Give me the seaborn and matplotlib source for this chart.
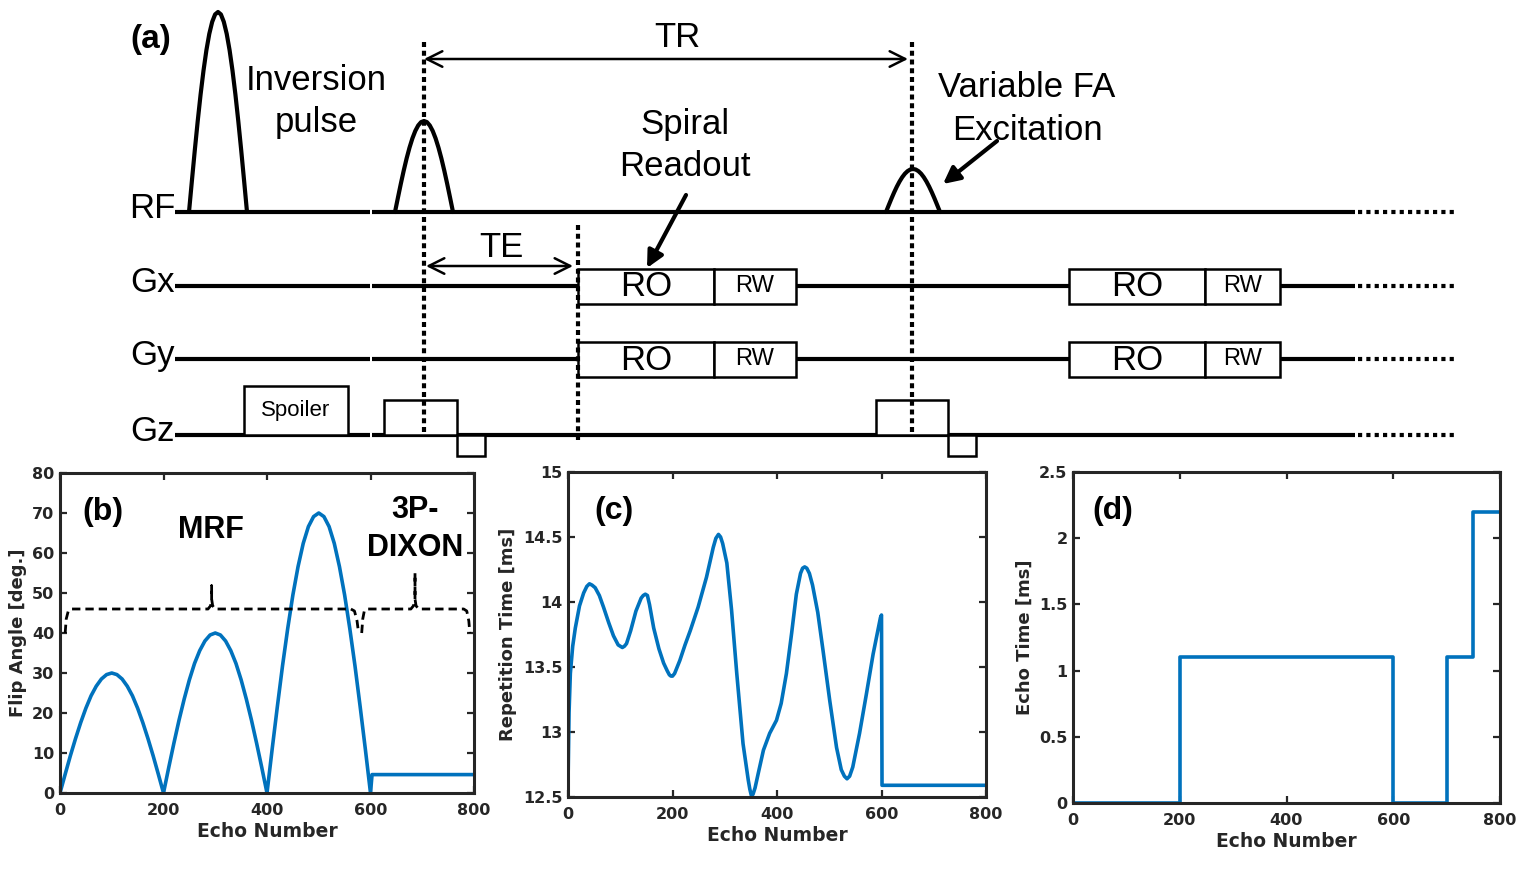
import numpy as np
import pandas as pd
import matplotlib
matplotlib.use("Agg")
import matplotlib.pyplot as plt
import seaborn as sns
from matplotlib.patches import Rectangle

W, H, DPI = 1539, 874, 100

# ---------------- (b) flip angle schedule ----------------
fa_echo = list(range(0, 601, 10)) + [603, 800]
fa_deg = [0, 4.7, 9.3, 13.6, 17.6, 21.2, 24.3, 26.7, 28.5, 29.6, 30, 29.6, 28.5, 26.7, 24.3, 21.2, 17.6, 13.6, 9.3, 4.7, 0,
          6.3, 12.4, 18.2, 23.5, 28.3, 32.4, 35.6, 38.0, 39.5, 40, 39.5, 38.0, 35.6, 32.4, 28.3, 23.5, 18.2, 12.4, 6.3, 0,
          11.0, 21.6, 31.8, 41.1, 49.5, 56.6, 62.4, 66.6, 69.1, 70, 69.1, 66.6, 62.4, 56.6, 49.5, 41.1, 31.8, 21.6, 11.0, 0,
          4.6, 4.6]

# curly braces marking the MRF / 3P-DIXON parts
mrf_brace_x = [10, 12, 16, 22, 286, 291, 293, 293, 293, 295, 300, 562, 569, 574, 577]
mrf_brace_y = [40, 43.5, 45.5, 46, 46, 46.8, 48.5, 51.8, 48.5, 46.8, 46, 46, 45.5, 43, 40]
dixon_brace_x = [583, 585, 588, 594, 678, 683, 686, 686, 686, 688, 693, 780, 786, 790, 792]
dixon_brace_y = [40, 43.5, 45.5, 46, 46, 46.8, 48.5, 55, 48.5, 46.8, 46, 46, 45.5, 43, 40]

# ---------------- (c) repetition time ----------------
tr_echo = [0, 2, 4.5, 9, 14, 22, 30, 36, 41, 46, 52, 60, 68, 78, 87, 96, 100, 104, 108, 112, 120, 130,
           140, 144, 148, 152, 156, 164, 174, 183, 190, 194, 197, 200, 204, 214, 224, 234, 249, 265,
           278, 283, 288, 292, 296, 304, 313, 323, 335, 345, 348, 351, 354, 358, 364, 374, 386, 399,
           408, 418, 428, 437, 445, 449, 453, 457, 462, 468, 478, 488, 501, 514, 523, 529, 534, 539,
           545, 558, 571, 584, 598, 600, 601, 800]
tr_ms = [12.59, 13.15, 13.45, 13.66, 13.8, 13.97, 14.07, 14.12, 14.14, 14.13, 14.11, 14.05, 13.96, 13.84,
         13.74, 13.67, 13.66, 13.65, 13.66, 13.68, 13.78, 13.93,
         14.03, 14.05, 14.06, 14.05, 13.98, 13.8, 13.64, 13.53, 13.47, 13.44, 13.43, 13.43, 13.45, 13.55,
         13.67, 13.78, 13.96, 14.19,
         14.42, 14.49, 14.52, 14.5, 14.45, 14.3, 13.94, 13.45, 12.91, 12.63, 12.56, 12.51, 12.52, 12.57,
         12.68, 12.86, 12.99, 13.09,
         13.22, 13.45, 13.76, 14.06, 14.22, 14.26, 14.27, 14.26, 14.22, 14.13, 13.92, 13.63, 13.24, 12.88,
         12.71, 12.66, 12.64, 12.66,
         12.73, 12.99, 13.29, 13.6, 13.88, 13.9, 12.59, 12.59]

# ---------------- (d) echo time ----------------
te_echo = [0, 200, 600, 700, 750, 800]
te_ms = [0, 1.1, 0, 1.1, 2.2, 2.2]

# ---------------- (a) sequence diagram (diagram units) ----------------
row_names = ["RF", "Gx", "Gy", "Gz"]
row_y = [212, 286, 359, 435]
line_start, line_gap, line_end, dots_end = 175, 371, 1355, 1458
pulse_center = [218, 424, 913]
pulse_halfwidth = [29, 29, 27]
pulse_height = [200, 91, 43]
pulse_profile = [0, 0.156, 0.309, 0.454, 0.588, 0.707, 0.809, 0.891, 0.951, 0.988, 1.0]
ro_start = [578, 1069]
ro_end = [714, 1205]
rw_end = [796, 1280]
gz_blocks = [("Spoiler", 244, 348, 386, 435), ("", 384, 457, 400, 435), ("", 457, 485, 435, 456),
             ("", 876, 948, 400, 435), ("", 948, 976, 435, 456)]

blue = "#0072BD"
dark = "#262626"

sns.set_theme(style="ticks")
plt.rcParams["font.family"] = ["DejaVu Sans"]
plt.rcParams["text.color"] = "black"

fig = plt.figure(figsize=(W / DPI, H / DPI), dpi=DPI)
fig.patch.set_facecolor("white")

# ---------- panel (a) ----------
ax0 = fig.add_axes([0, 0, 1, 1], zorder=0)
ax0.set_xlim(0, W)
ax0.set_ylim(H, 0)
ax0.axis("off")
arial = "Liberation Sans"

for name, y in zip(row_names, row_y):
    ax0.plot([line_start, line_gap - 1], [y, y], color="black", lw=3, solid_capstyle="butt", zorder=2)
    ax0.plot([line_gap + 1, line_end], [y, y], color="black", lw=3, solid_capstyle="butt", zorder=2)
    ax0.plot([line_end + 3, dots_end], [y, y], color="black", lw=3, linestyle=(0, (1, 1)), zorder=2)
    ax0.text(line_start, y + 6, name, ha="right", va="baseline", fontsize=25, family=arial, color="black")

prof = np.array(pulse_profile)
for c, hw, h in zip(pulse_center, pulse_halfwidth, pulse_height):
    u = np.concatenate([np.linspace(-1, 0, len(prof)), np.linspace(0, 1, len(prof))[1:]])
    v = np.concatenate([prof, prof[::-1][1:]])
    ax0.plot(c + u * hw, row_y[0] - v * h, color="black", lw=3, zorder=3)

for s, e, r in zip(ro_start, ro_end, rw_end):
    for y in row_y[1:3]:
        ax0.add_patch(Rectangle((s, y - 17.5), e - s, 35, facecolor="white", edgecolor="black", lw=1.8, zorder=4))
        ax0.add_patch(Rectangle((e, y - 17.5), r - e, 35, facecolor="white", edgecolor="black", lw=1.8, zorder=4))
        ax0.text((s + e) / 2, y + 1, "RO", ha="center", va="center", fontsize=25, family=arial,
                 color="black", zorder=5)
        ax0.text((e + r) / 2, y, "RW", ha="center", va="center", fontsize=17, family=arial,
                 color="black", zorder=5)

for label, x0, x1, y0, y1 in gz_blocks:
    ax0.add_patch(Rectangle((x0, y0), x1 - x0, y1 - y0, facecolor="white", edgecolor="black", lw=1.8, zorder=4))
    if label:
        ax0.text((x0 + x1) / 2, (y0 + y1) / 2, label, ha="center", va="center", fontsize=16, family=arial,
                 color="black", zorder=5)

# timing markers
for x, y0, y1 in [(424, 42, 436), (912, 42, 436), (578, 225, 440)]:
    ax0.plot([x, x], [y0, y1], color="black", lw=3, linestyle=(0, (1.2, 0.9)), zorder=6)

ax0.annotate("", xy=(908, 59), xytext=(424, 59),
             arrowprops=dict(arrowstyle="<->", lw=1.8, mutation_scale=28, color="black", shrinkA=0, shrinkB=0))
ax0.annotate("", xy=(573, 266), xytext=(426, 266),
             arrowprops=dict(arrowstyle="<->", lw=1.8, mutation_scale=28, color="black", shrinkA=0, shrinkB=0))
ax0.annotate("", xy=(647, 268), xytext=(686, 195),
             arrowprops=dict(arrowstyle="-|>", lw=3, mutation_scale=25, color="black", shrinkA=0, shrinkB=0), zorder=7)
ax0.annotate("", xy=(943, 184), xytext=(997, 141),
             arrowprops=dict(arrowstyle="-|>", lw=3, mutation_scale=25, color="black", shrinkA=0, shrinkB=0), zorder=7)

big = dict(ha="center", va="baseline", fontsize=25, family=arial, color="black")
ax0.text(151, 48, "(a)", ha="center", va="baseline", fontsize=24, family=arial, fontweight="bold", color="black")
ax0.text(316, 90, "Inversion", **big)
ax0.text(316, 132, "pulse", **big)
ax0.text(677, 47, "TR", **big)
ax0.text(685, 134, "Spiral", **big)
ax0.text(685, 176, "Readout", **big)
ax0.text(1027, 97, "Variable FA", **big)
ax0.text(1027, 140, "Excitation", **big)
ax0.text(501, 257, "TE", **big)


# ---------- panels (b)-(d) ----------
def add_panel(box):
    x0, y0, x1, y1 = box
    return fig.add_axes([x0 / W, (H - y1) / H, (x1 - x0) / W, (y1 - y0) / H], zorder=2)


def style(ax, yticks, ylabels, ylabel):
    ax.set_xlim(0, 800)
    ax.set_ylim(yticks[0], yticks[-1])
    xt = [0, 200, 400, 600, 800]
    ax.set_xticks(xt, [str(t) for t in xt], fontweight="bold")
    ax.set_yticks(yticks, ylabels, fontweight="bold")
    ax.tick_params(direction="in", length=5, width=1.6, top=True, right=True,
                   labelsize=11.5, colors=dark)
    ax.tick_params(axis="x", pad=7)
    ax.tick_params(axis="y", pad=4)
    for sp in ax.spines.values():
        sp.set_visible(True)
        sp.set_linewidth(2.2)
        sp.set_color(dark)
    ax.set_xlabel("Echo Number", fontsize=13.5, fontweight="bold", color=dark, labelpad=3)
    ax.set_ylabel(ylabel, fontsize=13, fontweight="bold", color=dark, labelpad=4)


lab = dict(ha="center", va="center", fontsize=23, fontweight="bold", family=arial, color="black")

axb = add_panel((60, 473, 474, 793))
sns.lineplot(x=fa_echo, y=fa_deg, ax=axb, color=blue, lw=2.6, sort=False, estimator=None)
for bx, by in [(mrf_brace_x, mrf_brace_y), (dixon_brace_x, dixon_brace_y)]:
    sns.lineplot(x=bx, y=by, ax=axb, color="black", lw=2, sort=False, estimator=None,
                 linestyle=(0, (3, 1.8)))
style(axb, [0, 10, 20, 30, 40, 50, 60, 70, 80], ["0", "10", "20", "30", "40", "50", "60", "70", "80"],
      "Flip Angle [deg.]")
axb.text(0.104, 0.878, "(b)", transform=axb.transAxes, **lab)
axb.text(292, 65.7, "MRF", ha="center", va="center", fontsize=22, fontweight="bold", family=arial, color="black")
axb.text(686, 70.7, "3P-", ha="center", va="center", fontsize=22, fontweight="bold", family=arial, color="black")
axb.text(686, 61.2, "DIXON", ha="center", va="center", fontsize=22, fontweight="bold", family=arial, color="black")

axc = add_panel((568, 472, 986, 797))
sns.lineplot(x=tr_echo, y=tr_ms, ax=axc, color=blue, lw=2.6, sort=False, estimator=None)
style(axc, [12.5, 13, 13.5, 14, 14.5, 15], ["12.5", "13", "13.5", "14", "14.5", "15"],
      "Repetition Time [ms]")
axc.text(0.11, 0.88, "(c)", transform=axc.transAxes, **lab)

axd = add_panel((1073, 472, 1500, 803))
sns.lineplot(x=te_echo, y=te_ms, ax=axd, color=blue, lw=2.6, sort=False, estimator=None,
             drawstyle="steps-post")
style(axd, [0, 0.5, 1, 1.5, 2, 2.5], ["0", "0.5", "1", "1.5", "2", "2.5"], "Echo Time [ms]")
axd.text(0.094, 0.882, "(d)", transform=axd.transAxes, **lab)

fig.savefig("out.png", dpi=DPI, facecolor="white")
